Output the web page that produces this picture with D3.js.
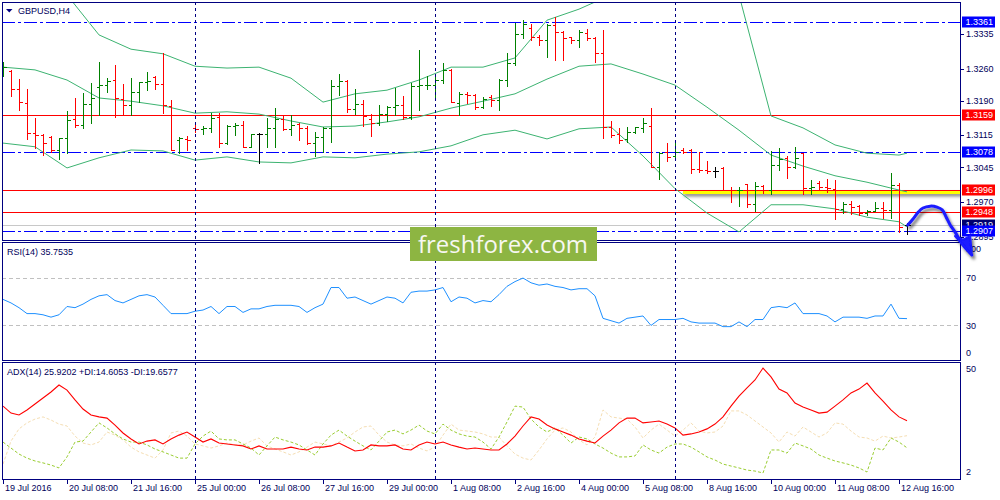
<!DOCTYPE html>
<html>
<head>
<meta charset="utf-8">
<script src="https://cdn.jsdelivr.net/npm/d3@7/dist/d3.min.js"></script>
<style>
  body { margin: 0; background: #fff; }
  svg { display: block; font-family: "Liberation Sans", Arial, sans-serif; }
</style>
</head>
<body>
<div id="chart"></div>
<script>
// GBPUSD H4 chart with Bollinger bands, RSI(14) and ADX(14)

const FRAME_WIDTH = 1000;
const FRAME_HEIGHT = 500;

const LEFT = 2, RIGHT = 960;
const MAIN = {top: 2, bottom: 240};
const RSI_P = {top: 242, bottom: 360};
const ADX_P = {top: 362, bottom: 479};

const NAVY = "#000080";
const TEXT = "#00005a";

// time axis
const tickBars = [0, 8, 16, 24, 32, 40, 48, 56, 64, 72, 80, 88, 96, 104, 112];
const tickLabels = ["19 Jul 2016", "20 Jul 08:00", "21 Jul 16:00", "25 Jul 00:00", "26 Jul 08:00",
  "27 Jul 16:00", "29 Jul 00:00", "1 Aug 08:00", "2 Aug 16:00", "4 Aug 00:00", "5 Aug 08:00",
  "8 Aug 16:00", "10 Aug 00:00", "11 Aug 08:00", "12 Aug 16:00"];
const weekStartBars = [24, 54, 84];

// price bars
const opens = [1.3253,1.3255,1.3215,1.3186,1.3119,1.3116,1.3111,1.3082,1.3108,1.3150,
  1.3138,1.3184,1.3220,1.3224,1.3235,1.3194,1.3181,1.3208,1.3231,1.3242,
  1.3226,1.3179,1.3105,1.3106,1.3130,1.3128,1.3130,1.3155,1.3098,1.3135,
  1.3137,1.3090,1.3118,1.3118,1.3130,1.3150,1.3128,1.3139,1.3131,1.3099,
  1.3112,1.3130,1.3222,1.3233,1.3173,1.3184,1.3150,1.3142,1.3161,1.3177,
  1.3181,1.3154,1.3222,1.3224,1.3224,1.3235,1.3257,1.3185,1.3205,1.3203,
  1.3177,1.3199,1.3192,1.3235,1.3273,1.3335,1.3349,1.3328,1.3323,1.3355,
  1.3339,1.3328,1.3321,1.3337,1.3326,1.3293,1.3134,1.3118,1.3106,1.3121,
  1.3130,1.3136,1.3046,1.3079,1.3070,1.3083,1.3083,1.3042,1.3040,1.3038,
  1.3044,1.2997,1.2995,1.3009,1.2965,1.3004,1.2997,1.3050,1.3065,1.3046,
  1.3077,1.3000,1.3011,1.3003,1.2998,1.2955,1.2966,1.2961,1.2946,1.2950,
  1.2958,1.2953,1.3007,1.2919];
const highs = [1.3275,1.3257,1.3237,1.3215,1.3152,1.3118,1.3113,1.3110,1.3168,1.3197,
  1.3206,1.3228,1.3275,1.3239,1.3268,1.3226,1.3239,1.3231,1.3253,1.3244,
  1.3293,1.3192,1.3112,1.3114,1.3142,1.3135,1.3163,1.3163,1.3137,1.3142,
  1.3145,1.3118,1.3120,1.3152,1.3174,1.3159,1.3159,1.3141,1.3135,1.3121,
  1.3134,1.3235,1.3248,1.3235,1.3215,1.3192,1.3161,1.3181,1.3179,1.3217,
  1.3201,1.3228,1.3300,1.3244,1.3244,1.3271,1.3258,1.3210,1.3208,1.3205,
  1.3199,1.3203,1.3237,1.3293,1.3358,1.3365,1.3357,1.3333,1.3357,1.3373,
  1.3342,1.3329,1.3344,1.3345,1.3329,1.3344,1.3147,1.3130,1.3132,1.3134,
  1.3152,1.3174,1.3078,1.3098,1.3098,1.3087,1.3085,1.3078,1.3060,1.3046,
  1.3046,1.3002,1.3002,1.3009,1.3014,1.3007,1.3081,1.3087,1.3070,1.3090,
  1.3077,1.3018,1.3016,1.3020,1.3018,1.2971,1.2973,1.2964,1.2952,1.2971,
  1.2969,1.3034,1.3011,1.2925];
const lows = [1.3244,1.3200,1.3170,1.3106,1.3088,1.3072,1.3079,1.3063,1.3076,1.3134,
  1.3130,1.3141,1.3159,1.3210,1.3154,1.3159,1.3159,1.3188,1.3213,1.3215,
  1.3163,1.3082,1.3076,1.3082,1.3121,1.3118,1.3121,1.3090,1.3096,1.3116,
  1.3090,1.3089,1.3054,1.3090,1.3090,1.3127,1.3116,1.3105,1.3096,1.3069,
  1.3079,1.3101,1.3203,1.3166,1.3161,1.3135,1.3113,1.3137,1.3145,1.3159,
  1.3150,1.3150,1.3170,1.3215,1.3192,1.3228,1.3188,1.3159,1.3185,1.3171,
  1.3174,1.3179,1.3169,1.3222,1.3268,1.3326,1.3323,1.3311,1.3286,1.3279,
  1.3279,1.3316,1.3307,1.3321,1.3275,1.3108,1.3111,1.3099,1.3101,1.3119,
  1.3123,1.3045,1.3020,1.3058,1.3068,1.3077,1.3032,1.3036,1.3033,1.3024,
  1.2996,1.2970,1.2961,1.2959,1.2950,1.2990,1.2988,1.3040,1.3022,1.3043,
  1.2987,1.2988,1.2998,1.2991,1.2933,1.2946,1.2944,1.2942,1.2942,1.2950,
  1.2935,1.2936,1.2905,1.2900];
const closes = [1.3264,1.3215,1.3188,1.3119,1.3116,1.3098,1.3082,1.3108,1.3148,1.3138,
  1.3184,1.3195,1.3224,1.3233,1.3195,1.3181,1.3208,1.3231,1.3233,1.3226,
  1.3181,1.3082,1.3108,1.3104,1.3128,1.3130,1.3152,1.3098,1.3135,1.3137,
  1.3090,1.3118,1.3118,1.3130,1.3150,1.3128,1.3137,1.3130,1.3099,1.3112,
  1.3130,1.3222,1.3233,1.3171,1.3184,1.3157,1.3142,1.3161,1.3177,1.3181,
  1.3155,1.3222,1.3224,1.3225,1.3234,1.3257,1.3188,1.3205,1.3203,1.3176,
  1.3193,1.3192,1.3235,1.3273,1.3335,1.3357,1.3328,1.3322,1.3355,1.3339,
  1.3326,1.3321,1.3340,1.3326,1.3293,1.3134,1.3116,1.3105,1.3121,1.3132,
  1.3141,1.3047,1.3076,1.3068,1.3078,1.3078,1.3042,1.3040,1.3038,1.3038,
  1.2997,1.2995,1.2997,1.2965,1.3004,1.2997,1.3050,1.3063,1.3046,1.3065,
  1.3000,1.3003,1.3003,1.3001,1.2955,1.2966,1.2959,1.2946,1.2950,1.2957,
  1.2953,1.3008,1.2916,1.2919];

// Bollinger bands, read every 4 bars
const bandBars = [0,4,8,12,16,20,24,28,32,36,40,44,48,52,56,60,64,68,72,76,80,84,88,92,96,100,104,108,112,113];
const bandUpper = [1.3463,1.3441,1.3420,1.3333,1.3302,1.3292,1.3265,1.3261,1.3263,1.3239,
  1.3187,1.3205,1.3213,1.3235,1.3263,1.3263,1.3283,1.3365,1.3389,1.3420,
  1.3441,1.3452,1.3452,1.3420,1.3157,1.3131,1.3094,1.3076,1.3072,1.3076];
const bandMiddle = [1.3263,1.3257,1.3235,1.3196,1.3189,1.3179,1.3163,1.3166,1.3161,1.3146,
  1.3133,1.3135,1.3144,1.3155,1.3174,1.3189,1.3205,1.3237,1.3265,1.3270,
  1.3248,1.3224,1.3176,1.3126,1.3072,1.3048,1.3027,1.3013,1.2996,1.2992];
const bandLower = [1.3098,1.3090,1.3044,1.3066,1.3083,1.3081,1.3061,1.3068,1.3057,1.3055,
  1.3068,1.3066,1.3074,1.3079,1.3092,1.3116,1.3126,1.3107,1.3129,1.3133,
  1.3070,1.2999,1.2946,1.2905,1.2964,1.2964,1.2955,1.2937,1.2927,1.2916];

// RSI(14)
const rsiValues = [52,49,45,40,40,39,37,39,46,45,
  48,52,55,56,51,49,52,55,56,54,
  47,40,40,40,42,43,46,40,46,46,
  41,44,44,46,47,47,47,46,41,45,
  48,62,62,53,54,51,48,51,54,53,
  49,58,59,59,60,62,50,54,53,49,
  51,50,56,63,67,70,66,64,65,63,
  62,60,61,61,55,36,34,32,36,37,
  38,30,35,35,35,36,33,32,32,32,
  29,29,33,29,35,35,45,46,45,49,
  40,40,40,38,33,37,37,37,36,38,
  38,48,36,35.7535];

// ADX(14)
const adxValues = [32.0,29.1,28.3,30.4,32.9,35.4,37.9,40.8,38.7,34.6,
  30.8,28.3,27.5,27.0,24.1,20.8,18.3,16.2,17.4,17.9,
  16.2,18.3,19.9,21.2,19.1,17.0,18.3,16.6,16.2,15.8,
  15.4,14.1,15.4,14.1,14.1,14.1,14.9,14.1,13.7,14.9,
  14.9,15.4,16.6,14.9,13.3,13.7,15.8,15.4,15.4,15.8,
  14.1,13.7,15.8,17.0,16.2,17.0,15.8,14.9,14.1,14.5,
  14.1,13.7,13.7,16.2,19.5,23.7,27.5,26.6,24.1,22.5,
  21.2,19.9,18.3,17.4,16.6,19.5,22.0,25.0,27.0,27.0,
  25.0,25.4,25.8,24.5,22.9,19.9,20.4,21.2,22.5,24.5,
  27.5,32.0,36.2,39.6,42.9,47.9,44.2,39.1,37.5,33.3,
  31.6,30.4,29.1,29.5,32.0,34.6,37.5,39.1,41.6,37.5,
  34.1,30.4,27.5,25.9202];
const plusDI = [17.0,14.5,12.0,10.3,9.1,8.3,7.4,6.2,10.8,17.0,
  17.4,21.2,25.0,22.9,20.4,18.3,17.0,17.0,15.8,14.1,
  12.9,11.6,10.3,10.3,16.2,19.5,21.6,18.3,17.9,17.9,
  16.2,14.5,11.6,15.4,19.1,17.9,17.0,15.8,13.7,11.6,
  16.2,19.9,22.0,19.5,17.4,15.4,13.7,17.4,21.2,22.0,
  20.4,22.0,24.1,21.6,20.4,24.5,22.0,20.4,19.5,19.1,
  17.0,14.1,19.1,25.4,32.0,31.6,26.6,23.3,21.2,22.9,
  19.9,16.6,19.1,18.3,16.2,14.5,12.4,10.8,10.8,11.2,
  15.8,13.7,12.4,14.9,16.2,16.2,14.9,12.9,10.8,9.5,
  7.8,7.0,6.2,5.3,4.9,4.1,13.7,13.7,12.4,16.6,
  15.4,14.1,11.6,10.3,9.1,8.3,7.4,6.2,4.5,14.5,
  13.7,18.7,17.0,14.6053];
const minusDI = [7.8,17.4,22.5,25.0,26.6,27.5,26.2,24.5,23.7,19.5,
  16.6,15.8,17.0,21.2,19.9,17.9,14.9,12.9,11.6,10.3,
  13.7,20.8,21.6,19.5,16.2,15.4,14.5,15.4,16.6,15.8,
  15.8,17.4,18.7,15.4,14.1,12.9,11.6,12.9,14.9,17.0,
  16.2,15.4,17.0,18.7,21.2,23.3,23.7,19.9,17.0,15.8,
  15.4,16.2,14.5,13.3,14.9,19.9,24.5,22.0,21.6,21.2,
  20.4,19.1,19.1,15.4,12.0,10.3,9.5,13.7,18.3,22.0,
  22.9,21.2,17.9,15.8,19.1,30.4,27.5,27.0,26.6,23.3,
  18.7,22.0,24.5,22.0,19.5,22.0,25.0,21.6,20.8,21.2,
  23.7,30.0,30.0,28.3,25.8,23.3,20.8,17.0,21.2,19.5,
  23.3,21.2,19.1,20.8,25.0,24.5,21.6,19.1,18.7,17.4,
  19.5,18.7,19.1,19.6577];

// price scale labels and drawn levels
const priceTicks = [1.3335, 1.3260, 1.3190, 1.3115, 1.3045, 1.2970, 1.2895];
const blueLevels = [1.3361, 1.3078, 1.2907];
const redLevels = [1.3159, 1.2996, 1.2948];
const bidPrice = 1.2919;
const trendStartBar = 85;

// hand drawn forecast arrow (bar index, price)
const arrowBars = [113.1, 113.75, 114.4, 115.0, 115.9, 116.75, 117.4, 117.9, 118.4, 119.0, 119.6, 120.1, 121.1];
const arrowPrices = [1.2920, 1.2933, 1.2948, 1.2957, 1.2961, 1.2959, 1.2953, 1.2937, 1.2920, 1.2905, 1.2887, 1.2874, 1.2855];


const FRAME1 = d3.select("#chart")
  .append("svg")
    .attr("width", FRAME_WIDTH)
    .attr("height", FRAME_HEIGHT);

const x = d3.scaleLinear().domain([0, 113]).range([3, 907]);
const y = d3.scaleLinear().domain([1.3335, 1.2970]).range([34, 202]);
const yRsi = d3.scaleLinear().domain([0, 100]).range([361, 242.5]);
const yAdx = d3.scaleLinear().domain([2, 50]).range([478, 363]);

const px = v => Math.round(v) + 0.5;

const defs = FRAME1.append("defs");
[["clipMain", MAIN], ["clipRsi", RSI_P], ["clipAdx", ADX_P]].forEach(([id, p]) => {
  defs.append("clipPath").attr("id", id)
    .append("rect")
      .attr("x", LEFT + 1).attr("y", p.top + 1)
      .attr("width", RIGHT - LEFT - 1).attr("height", p.bottom - p.top - 1);
});
const shadow = defs.append("filter").attr("id", "shadow")
  .attr("x", "-20%").attr("y", "-20%").attr("width", "160%").attr("height", "200%");
shadow.append("feDropShadow")
  .attr("dx", 2).attr("dy", 3).attr("stdDeviation", 1.6)
  .attr("flood-color", "#000").attr("flood-opacity", 0.55);

// wide region for the thin yellow trend line
const lineShadow = defs.append("filter").attr("id", "lineShadow")
  .attr("filterUnits", "userSpaceOnUse")
  .attr("x", 600).attr("y", 170).attr("width", 400).attr("height", 40);
lineShadow.append("feDropShadow")
  .attr("dx", 1).attr("dy", 2.5).attr("stdDeviation", 1.4)
  .attr("flood-color", "#000").attr("flood-opacity", 0.45);

const gMain = FRAME1.append("g").attr("clip-path", "url(#clipMain)");
const gRsi = FRAME1.append("g").attr("clip-path", "url(#clipRsi)");
const gAdx = FRAME1.append("g").attr("clip-path", "url(#clipAdx)");

// week separators across all panels
FRAME1.append("g")
  .selectAll("line")
  .data(weekStartBars)
  .join("line")
    .attr("x1", d => px(x(d))).attr("x2", d => px(x(d)))
    .attr("y1", MAIN.top).attr("y2", ADX_P.bottom)
    .attr("stroke", NAVY)
    .attr("stroke-dasharray", "3,3")
    .attr("shape-rendering", "crispEdges");

// bid line
gMain.append("line")
  .attr("x1", LEFT).attr("x2", RIGHT)
  .attr("y1", px(y(bidPrice))).attr("y2", px(y(bidPrice)))
  .attr("stroke", "#c8c8c8")
  .attr("shape-rendering", "crispEdges");

// horizontal levels
gMain.selectAll(".blue-level")
  .data(blueLevels)
  .join("line")
    .attr("class", "blue-level")
    .attr("x1", LEFT).attr("x2", RIGHT)
    .attr("y1", d => px(y(d))).attr("y2", d => px(y(d)))
    .attr("stroke", "#0000ff")
    .attr("stroke-width", 1.2)
    .attr("stroke-dasharray", "13,3,3,3")
    .attr("shape-rendering", "crispEdges");

// yellow trend line on 1.2996
gMain.append("rect")
  .attr("x", x(trendStartBar)).attr("width", RIGHT - x(trendStartBar) + 20)
  .attr("y", Math.round(y(redLevels[1]))).attr("height", 4)
  .attr("fill", "#ffff00")
  .attr("filter", "url(#lineShadow)");

gMain.selectAll(".red-level")
  .data(redLevels)
  .join("line")
    .attr("class", "red-level")
    .attr("x1", LEFT).attr("x2", RIGHT)
    .attr("y1", d => px(y(d))).attr("y2", d => px(y(d)))
    .attr("stroke", "#ff0000")
    .attr("shape-rendering", "crispEdges");

// Bollinger bands
[bandUpper, bandMiddle, bandLower].forEach(band => {
  gMain.append("path")
    .datum(band)
    .attr("fill", "none")
    .attr("stroke", "#3cb371")
    .attr("stroke-width", 1)
    .attr("d", d3.line()
      .x((d, i) => x(bandBars[i]))
      .y(d => y(d)));
});

// OHLC bars
const bars = opens.map((o, i) => ({i: i, o: o, h: highs[i], l: lows[i], c: closes[i]}));
gMain.append("g")
  .selectAll("path")
  .data(bars)
  .join("path")
    .attr("fill", "none")
    .attr("stroke", d => d.c > d.o ? "#008000" : (d.c < d.o ? "#ff0000" : "#000000"))
    .attr("stroke-width", 1.2)
    .attr("shape-rendering", "crispEdges")
    .attr("d", d => {
      const bx = px(x(d.i));
      const yo = px(y(d.o)), yc = px(y(d.c));
      return "M" + bx + "," + Math.round(y(d.h)) + "V" + (Math.round(y(d.l)) + 1)
        + "M" + (bx - 3) + "," + yo + "H" + bx
        + "M" + bx + "," + yc + "H" + (bx + 3);
    });

// RSI panel
gRsi.selectAll(".rsi-level")
  .data([70, 30])
  .join("line")
    .attr("class", "rsi-level")
    .attr("x1", LEFT).attr("x2", RIGHT)
    .attr("y1", d => px(yRsi(d))).attr("y2", d => px(yRsi(d)))
    .attr("stroke", "#c0c0c0")
    .attr("stroke-dasharray", "4,3")
    .attr("shape-rendering", "crispEdges");

gRsi.append("path")
  .datum(rsiValues)
  .attr("fill", "none")
  .attr("stroke", "#1e90ff")
  .attr("stroke-width", 1)
  .attr("d", d3.line().x((d, i) => x(i)).y(d => yRsi(d)));

// ADX panel
gAdx.append("path")
  .datum(minusDI)
  .attr("fill", "none")
  .attr("stroke", "#f5deb3")
  .attr("stroke-dasharray", "3,2")
  .attr("d", d3.line().x((d, i) => x(i)).y(d => yAdx(d)));

gAdx.append("path")
  .datum(plusDI)
  .attr("fill", "none")
  .attr("stroke", "#9acd32")
  .attr("stroke-dasharray", "3,2")
  .attr("d", d3.line().x((d, i) => x(i)).y(d => yAdx(d)));

gAdx.append("path")
  .datum(adxValues)
  .attr("fill", "none")
  .attr("stroke", "#ff0000")
  .attr("stroke-width", 1.1)
  .attr("d", d3.line().x((d, i) => x(i)).y(d => yAdx(d)));

// panel frames
[MAIN, RSI_P, ADX_P].forEach(p => {
  FRAME1.append("rect")
    .attr("x", LEFT + 0.5).attr("y", p.top + 0.5)
    .attr("width", RIGHT - LEFT).attr("height", p.bottom - p.top)
    .attr("fill", "none")
    .attr("stroke", NAVY)
    .attr("stroke-width", 1.2)
    .attr("shape-rendering", "crispEdges");
});

// price scale
const gAxis = FRAME1.append("g").attr("font-size", 9).attr("fill", TEXT);

gAxis.selectAll(".ptick")
  .data(priceTicks)
  .join("line")
    .attr("class", "ptick")
    .attr("x1", RIGHT).attr("x2", RIGHT + 4)
    .attr("y1", d => px(y(d))).attr("y2", d => px(y(d)))
    .attr("stroke", NAVY)
    .attr("shape-rendering", "crispEdges");

gAxis.selectAll(".plabel")
  .data(priceTicks)
  .join("text")
    .attr("class", "plabel")
    .attr("x", RIGHT + 6)
    .attr("y", d => y(d))
    .attr("dy", "0.35em")
    .text(d => d.toFixed(4));

// RSI / ADX scale labels
const rsiLabels = [[100, 249], [70, yRsi(70)], [30, yRsi(30)], [0, 353]];
gAxis.selectAll(".rlabel")
  .data(rsiLabels)
  .join("text")
    .attr("class", "rlabel")
    .attr("x", RIGHT + 6)
    .attr("y", d => d[1])
    .attr("dy", "0.35em")
    .text(d => d[0]);

const adxLabels = [[50, yAdx(50) + 6], [2, yAdx(2) - 6]];
gAxis.selectAll(".alabel")
  .data(adxLabels)
  .join("text")
    .attr("class", "alabel")
    .attr("x", RIGHT + 6)
    .attr("y", d => d[1])
    .attr("dy", "0.35em")
    .text(d => d[0]);

// time axis
gAxis.selectAll(".ttick")
  .data(tickBars)
  .join("line")
    .attr("class", "ttick")
    .attr("x1", d => px(x(d))).attr("x2", d => px(x(d)))
    .attr("y1", ADX_P.bottom).attr("y2", ADX_P.bottom + 5)
    .attr("stroke", NAVY)
    .attr("shape-rendering", "crispEdges");

gAxis.selectAll(".tlabel")
  .data(tickLabels)
  .join("text")
    .attr("class", "tlabel")
    .attr("x", (d, i) => x(tickBars[i]) + 2)
    .attr("y", 491)
    .text(d => d);

// coloured level labels (bid label sits just above the lowest one)
const levelBoxes = [];
blueLevels.forEach(p => levelBoxes.push({p: p, col: "#0000ff"}));
redLevels.forEach(p => levelBoxes.push({p: p, col: "#ff0000"}));
levelBoxes.sort((a, b) => b.p - a.p);
levelBoxes.splice(levelBoxes.length - 1, 0, {p: bidPrice, col: "#000070"});

const boxes = gAxis.selectAll(".lbox")
  .data(levelBoxes)
  .join("g")
    .attr("class", "lbox")
    .attr("transform", d => "translate(" + (RIGHT + 2) + "," + Math.round(y(d.p)) + ")");
boxes.append("rect")
  .attr("x", 0).attr("y", -5.5)
  .attr("width", 33).attr("height", 11)
  .attr("fill", d => d.col);
boxes.append("text")
  .attr("x", 3.5).attr("y", 0)
  .attr("dy", "0.35em")
  .attr("fill", "#fff")
  .text(d => d.p.toFixed(4));

// panel titles
FRAME1.append("path")
  .attr("d", "M6,9 L12.5,9 L9.25,12.5 Z")
  .attr("fill", NAVY);
FRAME1.append("text")
  .attr("x", 18).attr("y", 14)
  .attr("font-size", 9).attr("fill", TEXT)
  .text("GBPUSD,H4");
FRAME1.append("text")
  .attr("x", 7).attr("y", 255)
  .attr("font-size", 9).attr("fill", TEXT)
  .text("RSI(14) " + rsiValues[rsiValues.length - 1].toFixed(4));
FRAME1.append("text")
  .attr("x", 7).attr("y", 375)
  .attr("font-size", 9).attr("fill", TEXT)
  .text("ADX(14) " + adxValues[adxValues.length - 1].toFixed(4)
    + " +DI:" + plusDI[plusDI.length - 1].toFixed(4)
    + " -DI:" + minusDI[minusDI.length - 1].toFixed(4));

// watermark
FRAME1.append("rect")
  .attr("x", 410).attr("y", 227)
  .attr("width", 187).attr("height", 34)
  .attr("fill", "#8db542");
FRAME1.append("text")
  .attr("x", 418).attr("y", 253)
  .attr("font-family", "'Open Sans', 'Noto Sans', sans-serif")
  .attr("font-size", 24)
  .attr("fill", "#f7f7f2")
  .attr("textLength", 170)
  .attr("lengthAdjust", "spacingAndGlyphs")
  .text("freshforex.com");

// forecast arrow
const gArrow = FRAME1.append("g").attr("filter", "url(#shadow)");
gArrow.append("path")
  .datum(arrowPrices)
  .attr("fill", "none")
  .attr("stroke", "#1a1aff")
  .attr("stroke-width", 3)
  .attr("stroke-linecap", "round")
  .attr("d", d3.line().curve(d3.curveCatmullRom)
    .x((d, i) => x(arrowBars[i]))
    .y(d => y(d)));
const tip = [x(121.1), y(1.2855)];
gArrow.append("path")
  .attr("d", "M" + tip[0] + "," + tip[1]
    + "L" + x(119.0) + "," + y(1.2896)
    + "L" + x(120.0) + "," + y(1.2888)
    + "L" + x(120.9) + "," + y(1.2896) + "Z")
  .attr("fill", "#1a1aff")
  .attr("stroke", "#1a1aff")
  .attr("stroke-width", 2)
  .attr("stroke-linejoin", "round");
</script>
</body>
</html>
